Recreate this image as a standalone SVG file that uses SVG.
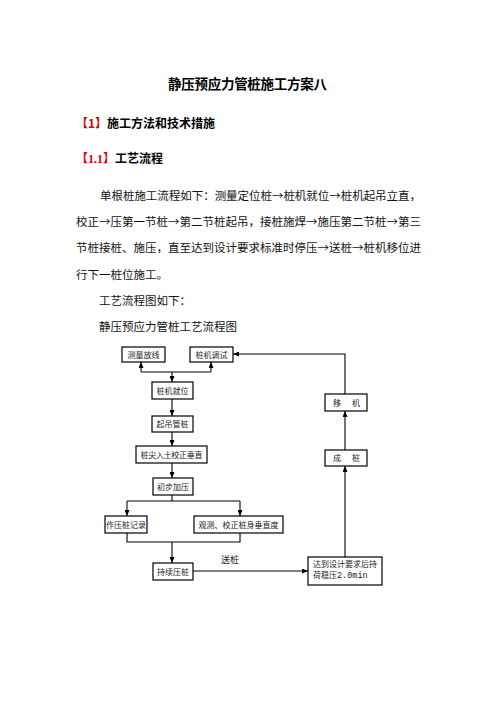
<svg xmlns="http://www.w3.org/2000/svg" width="496" height="702" viewBox="0 0 496 702">
<style>
.cn{font-family:"Noto Sans CJK SC","Liberation Sans",sans-serif;}
.h{font-weight:bold;fill:#000;}
.red{fill:#e00000;}
.body{font-size:11.5px;fill:#111;}
.box{fill:#fff;stroke:#000;stroke-width:1.2;}
.bt{font-size:8px;fill:#222;text-anchor:middle;}
.ln{fill:none;stroke:#000;stroke-width:1.1;}
.mono{font-family:"Liberation Mono",monospace;}
</style>
<defs>
<marker id="ah" viewBox="0 0 6 5" refX="6" refY="2.5" markerWidth="6" markerHeight="5" markerUnits="userSpaceOnUse" orient="auto">
<path d="M0,0 L6,2.5 L0,5 z" fill="#000"/>
</marker>
</defs>
<rect width="496" height="702" fill="#fff"/>
<text class="cn h" x="168" y="89" font-size="13.5" textLength="159">静压预应力管桩施工方案八</text>
<text class="cn h" x="76" y="128" font-size="12"><tspan class="red">【1】</tspan>施工方法和技术措施</text>
<text class="cn h" x="76" y="163" font-size="12"><tspan class="red">【</tspan><tspan class="red" font-family="Liberation Serif">1.1</tspan><tspan class="red">】</tspan>工艺流程</text>
<text class="cn body" x="100" y="200" textLength="321" lengthAdjust="spacing">单根桩施工流程如下：测量定位桩→桩机就位→桩机起吊立直，</text>
<text class="cn body" x="76" y="226" textLength="345" lengthAdjust="spacing">校正→压第一节桩→第二节桩起吊，接桩施焊→施压第二节桩→第三</text>
<text class="cn body" x="76" y="252" textLength="345" lengthAdjust="spacing">节桩接桩、施压，直至达到设计要求标准时停压→送桩→桩机移位进</text>
<text class="cn body" x="76" y="279">行下一桩位施工。</text>
<text class="cn body" x="99" y="305">工艺流程图如下：</text>
<text class="cn body" x="99" y="331">静压预应力管桩工艺流程图</text>
<g id="connectors">
<path class="ln" d="M141,372 L211,372"/>
<path class="ln" d="M141,372 L141,362" marker-end="url(#ah)"/>
<path class="ln" d="M211,372 L211,362" marker-end="url(#ah)"/>
<path class="ln" d="M172,372 L172,382" marker-end="url(#ah)"/>
<path class="ln" d="M345,394 L345,354 L233,354" marker-end="url(#ah)"/>
<path class="ln" d="M172,399 L172,416" marker-end="url(#ah)"/>
<path class="ln" d="M172,432 L172,446" marker-end="url(#ah)"/>
<path class="ln" d="M172,463 L172,478" marker-end="url(#ah)"/>
<path class="ln" d="M172,495 L172,501 M127,501 L240,501"/>
<path class="ln" d="M127,501 L127,516" marker-end="url(#ah)"/>
<path class="ln" d="M240,501 L240,516" marker-end="url(#ah)"/>
<path class="ln" d="M127,533 L127,542 L240,542 L240,533"/>
<path class="ln" d="M172,542 L172,563" marker-end="url(#ah)"/>
<path class="ln" d="M193,571 L308,571" marker-end="url(#ah)"/>
<path class="ln" d="M345,557 L345,466" marker-end="url(#ah)"/>
<path class="ln" d="M345,450 L345,411" marker-end="url(#ah)"/>
<text class="cn" x="221" y="563" font-size="9" fill="#222">送桩</text>
</g>
<g id="n1"><rect class="box" x="122" y="347" width="43" height="15"/><text class="cn bt" x="143.5" y="357.5">测量放线</text></g>
<g id="n2"><rect class="box" x="190" y="347" width="43" height="15"/><text class="cn bt" x="211.5" y="357.5">桩机调试</text></g>
<g id="n3"><rect class="box" x="152" y="382" width="41" height="17"/><text class="cn bt" x="172.5" y="393.5">桩机就位</text></g>
<g id="n4"><rect class="box" x="152" y="416" width="41" height="16"/><text class="cn bt" x="172.5" y="427">起吊管桩</text></g>
<g id="n5"><rect class="box" x="136" y="446" width="71" height="17"/><text class="cn bt" x="171.5" y="457.5" textLength="62" lengthAdjust="spacing">桩尖入土校正垂直</text></g>
<g id="n6"><rect class="box" x="153" y="478" width="40" height="17"/><text class="cn bt" x="173" y="489.5">初步加压</text></g>
<g id="n7"><rect class="box" x="105" y="516" width="42" height="17"/><text class="cn bt" x="126" y="527.5">作压桩记录</text></g>
<g id="n8"><rect class="box" x="194" y="516" width="89" height="17"/><text class="cn bt" x="238.5" y="527.5">观测、校正桩身垂直度</text></g>
<g id="n9"><rect class="box" x="153" y="563" width="40" height="17"/><text class="cn bt" x="173" y="574.5">持续压桩</text></g>
<g id="n10"><rect class="box" x="308" y="557" width="74" height="28"/><text class="cn bt" x="345" y="567">达到设计要求后持</text><text class="cn" x="313" y="578" font-size="8" fill="#222">荷稳压<tspan class="mono" font-size="8.5">2.0min</tspan></text></g>
<g id="n11"><rect class="box" x="325" y="450" width="42" height="16"/><text class="cn" font-size="8" fill="#222" x="333 352" y="461">成桩</text></g>
<g id="n12"><rect class="box" x="325" y="394" width="42" height="17"/><text class="cn" font-size="8" fill="#222" x="333 352" y="405.5">移机</text></g>
</svg>
